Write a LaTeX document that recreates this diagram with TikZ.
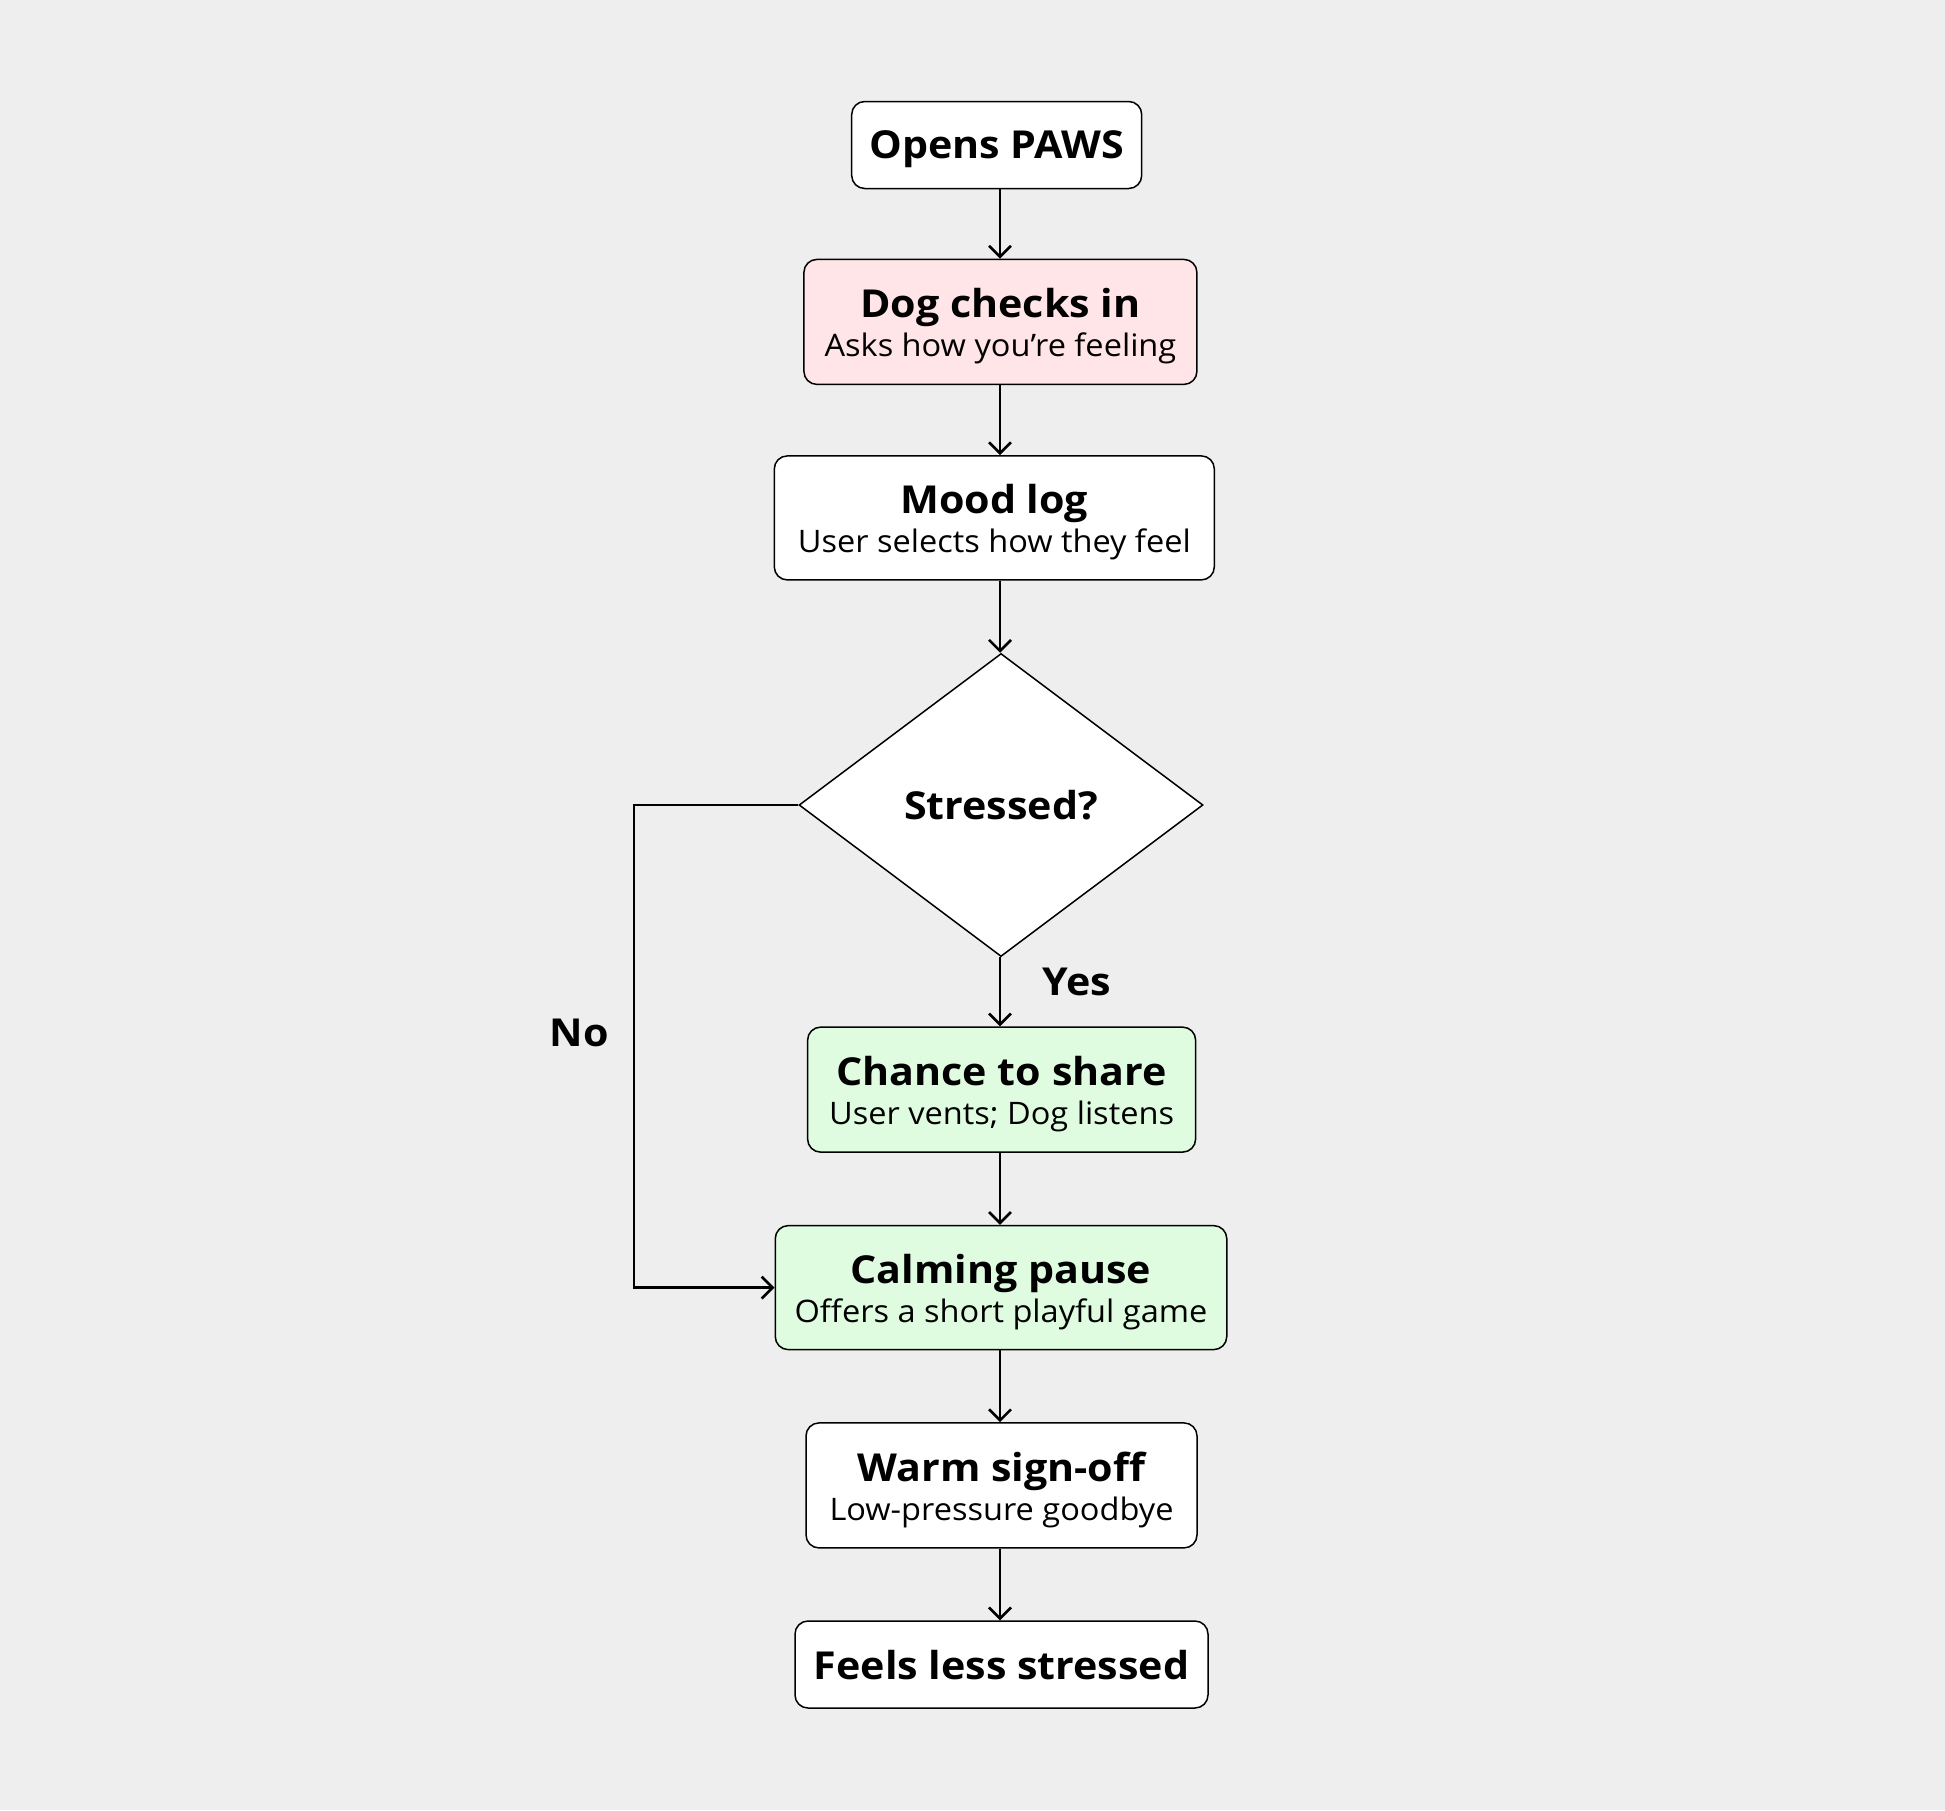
\documentclass[tikz,border=0pt]{standalone}
\usepackage{fontspec}
\setmainfont{Open Sans}
\newfontfamily\ttlfam{Open Sans}[FakeStretch=1.07]
\newfontfamily\subfam{Open Sans}[FakeStretch=1.05]
\usetikzlibrary{shapes.geometric,arrows.meta,calc}
\definecolor{bgc}{HTML}{EEEEEE}
\definecolor{pinkf}{HTML}{FFE4E8}
\definecolor{greenf}{HTML}{E0FCE0}
\begin{document}
\begin{tikzpicture}[x=1pt,y=-1pt,
  box/.style={draw=black, line width=1.5pt, rounded corners=13pt, fill=white, inner sep=0pt},
  ttl/.style={font=\ttlfam\fontsize{38.5}{42}\selectfont\bfseries, anchor=base, inner sep=0pt},
  subt/.style={font=\subfam\fontsize{31}{34}\selectfont, anchor=base, inner sep=0pt},
  lbl/.style={font=\ttlfam\fontsize{38.5}{42}\selectfont\bfseries, inner sep=0pt},
  arr/.style={line width=2.6pt, -{Straight Barb[length=11pt,width=22pt,line width=2.6pt]}}]
\fill[bgc] (0,0) rectangle (1945,1810);
\useasboundingbox (0,0) rectangle (1945,1810);
\coordinate (axis) at (1000,0);

\node[box, minimum width=290, minimum height=87] (open) at (996.7,145) {};
\node[ttl] (openT) at (996.7,158.5) {Opens PAWS};

\node[box, fill=pinkf, minimum width=393, minimum height=125] (dog) at (1000.4,321.9) {};
\node[ttl] (dogT) at (1000.4,317.4) {Dog checks in};
\node[subt] (dogS) at (1000.4,356.5) {Asks how you’re feeling};

\node[box, minimum width=440, minimum height=124] (mood) at (994.3,517.9) {};
\node[ttl] (moodT) at (994.3,513.5) {Mood log};
\node[subt] (moodS) at (994.3,552.5) {User selects how they feel};

\node[diamond, draw=black, line width=1.5pt, fill=white, minimum width=404, minimum height=303, inner sep=0pt, font=\ttlfam\fontsize{38.5}{42}\selectfont\bfseries] (dia) at (1001,805) {Stressed?};

\node[box, fill=greenf, minimum width=388, minimum height=125] (chance) at (1001.6,1089.6) {};
\node[ttl] (chanceT) at (1001.6,1085.3) {Chance to share};
\node[subt] (chanceS) at (1001.6,1124.3) {User vents; Dog listens};

\node[box, fill=greenf, minimum width=451.5, minimum height=124] (calm) at (1001,1287.6) {};
\node[ttl] (calmT) at (1001,1283.3) {Calming pause};
\node[subt] (calmS) at (1001,1322.3) {Offers a short playful game};

\node[box, minimum width=391, minimum height=125] (warm) at (1001.5,1485.4) {};
\node[ttl] (warmT) at (1001.5,1481) {Warm sign-off};
\node[subt] (warmS) at (1001.5,1520) {Low-pressure goodbye};

\node[box, minimum width=413, minimum height=87] (feels) at (1001.5,1664.5) {};
\node[ttl] (feelsT) at (1001.5,1679) {Feels less stressed};

\node[lbl] (yes) at (1076.7,982.4) {Yes};
\node[lbl] (no) at (579,1033) {No};

\draw[arr] (open.south -| axis) -- (dog.north -| axis);
\draw[arr] (dog.south -| axis) -- (mood.north -| axis);
\draw[arr] (mood.south -| axis) -- (dia.north -| axis);
\draw[arr] (dia.south -| axis) -- (chance.north -| axis);
\draw[arr] (chance.south -| axis) -- (calm.north -| axis);
\draw[arr] (calm.south -| axis) -- (warm.north -| axis);
\draw[arr] (warm.south -| axis) -- (feels.north -| axis);
\coordinate (nocorner) at (634,805);
\draw[arr] (dia.west) -- (nocorner) |- (calm.west);
\end{tikzpicture}
\end{document}
